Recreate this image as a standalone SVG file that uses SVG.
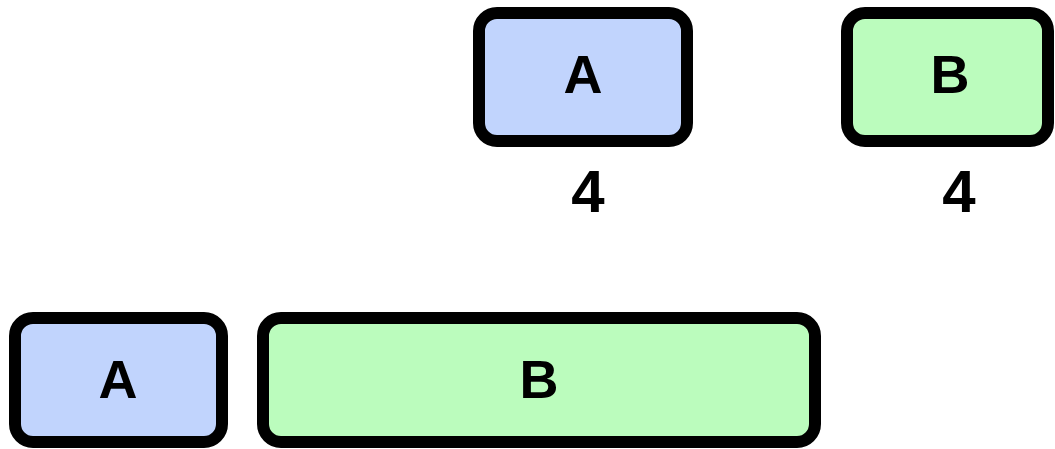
<svg xmlns="http://www.w3.org/2000/svg" width="1055" height="449" viewBox="0 0 1055 449">
  <style>
    .box { stroke: #000; stroke-width: 12; }
    .a { fill: #c1d4fd; }
    .b { fill: #bbfcbd; }
    .lbl { font-family: "Liberation Sans", Arial, sans-serif; font-weight: bold; font-size: 54px; text-anchor: middle; fill: #000; }
    .num { font-family: "Liberation Sans", Arial, sans-serif; font-weight: bold; font-size: 60px; text-anchor: middle; fill: #000; }
  </style>
  <rect width="1055" height="449" fill="#fff"/>
  <g id="top-a">
    <rect class="box a" x="479" y="13" width="208" height="128" rx="18"/>
    <text class="lbl" x="583" y="93">A</text>
    <text class="num" x="588" y="212">4</text>
  </g>
  <g id="top-b">
    <rect class="box b" x="847" y="13" width="201" height="128" rx="18"/>
    <text class="lbl" x="950" y="93">B</text>
    <text class="num" x="959" y="212">4</text>
  </g>
  <g id="bottom-a">
    <rect class="box a" x="15" y="318" width="207" height="124" rx="18"/>
    <text class="lbl" x="118" y="398">A</text>
  </g>
  <g id="bottom-b">
    <rect class="box b" x="263" y="318" width="552" height="124" rx="18"/>
    <text class="lbl" x="539" y="398">B</text>
  </g>
  <g id="connectors"/>
</svg>
